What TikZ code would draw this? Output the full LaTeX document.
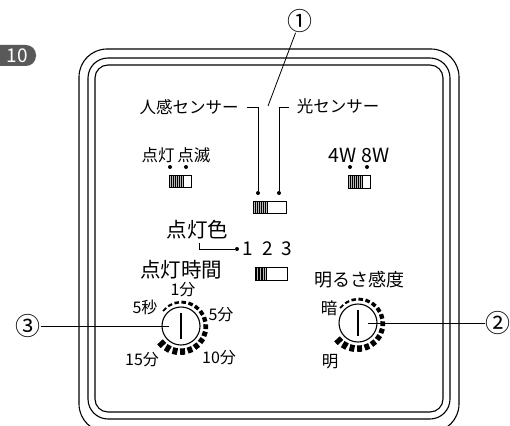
\documentclass[tikz,border=0pt]{standalone}
\usepackage{fontspec}
\setmainfont{Noto Sans CJK JP}
\usetikzlibrary{calc}
\newcommand\fsz[1]{\fontsize{#1}{#1}\selectfont}
\newcommand\swbox[5]{% x1 y1 x2 y2 xh
  \fill[gray!55] (#1,#2) rectangle (#5,#4);
  \foreach \sx in {1,...,6}{\draw[line width=0.9pt] ({#1+(#5-#1)*\sx/7},#2) -- ({#1+(#5-#1)*\sx/7},#4);}
  \draw[line width=0.9pt] (#1,#2) rectangle (#3,#4);
  \draw[line width=0.9pt] (#5,#2) -- (#5,#4);}
\newcommand\dialring[1]{%
  \foreach \i in {0,...,16}{%
    \pgfmathsetmacro\segA{140-\i*17}%
    \pgfmathsetmacro\segW{1.8+\i*0.36}%
    \pgfmathsetmacro\segR{22.5+\segW/2}%
    \draw[line width=\segW pt] ($(#1)+(\segA:\segR pt)$) arc[start angle=\segA, end angle=\segA-11, radius=\segR pt];
  }}
\begin{document}
\begin{tikzpicture}[x=1pt,y=1pt,
  frameline/.style={line width=1.1pt},
  txt/.style={inner sep=0pt, font=\fsz{16.5}},
  bigtxt/.style={inner sep=0pt, font=\fsz{20.5}},
  dialtxt/.style={inner sep=0pt, font=\fsz{16}},
  numtxt/.style={inner sep=0pt, font=\fsz{19}},
  circnum/.style={inner sep=0pt, font=\fsz{25}},
  sdot/.style={circle, fill, inner sep=0pt, minimum size=4pt},
  lead/.style={line width=0.8pt},
  knob/.style={circle, draw, line width=1.1pt, minimum size=38pt, inner sep=0pt}]
\useasboundingbox (0,0) rectangle (510,-425);
\clip (0,0) rectangle (510,-425);
% badge
\fill[gray!70!black, rounded corners=10pt] (-20,-45) rectangle (36,-66);
\node[inner sep=0pt, text=white, font=\fsz{19}] (badge) at (17,-55.5) {10};
% frame
\draw[frameline, rounded corners=28pt] (79,-49) rectangle (459,-432);
\draw[frameline, rounded corners=20pt] (88,-58) rectangle (450,-419);
\draw[frameline, rounded corners=13pt] (95,-65) rectangle (443,-412);
% sensor selection
\node[circnum] (c1) at (300,-21) {①};
\coordinate (gap) at (268,-106);
\draw[lead] (c1) -- (gap);
\node[txt] (hum) at (189,-107) {人感センサー};
\node[txt] (light) at (338,-106) {光センサー};
\node[sdot] (d1) at (258,-193) {};
\node[sdot] (d2) at (279,-193) {};
\coordinate (b1) at (247,-107);
\coordinate (b2) at (289,-107);
\draw[lead] (b1) -| (d1);
\draw[lead] (b2) -| (d2);
\swbox{253}{-201}{286}{-213}{267}
% mode switch
\node[txt] (mode) at (176,-155) {点灯\hspace{3pt}点滅};
\node[sdot] (d3) at (170,-167) {};
\node[sdot] (d4) at (186,-167) {};
\swbox{169}{-175}{191}{-187}{183}
% wattage switch
\node[inner sep=0pt, font=\fsz{19.5}] (watt) at (359,-155) {4W 8W};
\node[sdot] (d5) at (350,-167) {};
\node[sdot] (d6) at (367,-167) {};
\swbox{348}{-175}{370}{-188}{362}
% colour
\node[bigtxt] (col) at (197.5,-230) {点灯色};
\node[sdot] (d7) at (237,-249) {};
\coordinate (cb) at (199,-243);
\draw[lead] (cb) |- (d7);
\node[numtxt] (n1) at (248,-249) {1};
\node[numtxt] (n2) at (268,-249) {2};
\node[numtxt] (n3) at (287,-249) {3};
\swbox{255}{-267}{287}{-280}{266}
% time dial
\node[bigtxt] (time) at (181,-270) {点灯時間};
\node[knob] (dl) at (181,-326) {};
\draw[line width=2pt] ($(dl.center)+(0,13)$) -- ($(dl.center)+(0,-13)$);
\dialring{dl.center}
\node[dialtxt] (t1) at (183,-290) {1分};
\node[dialtxt] (t2) at (145,-307) {5秒};
\node[dialtxt] (t3) at (221,-315) {5分};
\node[dialtxt] (t4) at (142,-360) {15分};
\node[dialtxt] (t5) at (219,-358) {10分};
\node[circnum] (c3) at (28,-326) {③};
\coordinate (le) at (169,-326);
\draw[lead] (c3) -- (le);
% brightness dial
\node[inner sep=0pt, font=\fsz{18}] (bri) at (359.5,-280) {明るさ感度};
\node[knob] (dr) at (358,-323) {};
\draw[line width=2pt] ($(dr.center)+(0,13)$) -- ($(dr.center)+(0,-13)$);
\dialring{dr.center}
\node[inner sep=0pt, font=\fsz{16.5}] (dark) at (329,-308) {暗};
\node[inner sep=0pt, font=\fsz{16.5}] (bright) at (330,-362) {明};
\node[circnum] (c2) at (498,-323) {②};
\coordinate (re) at (368,-323);
\draw[lead] (c2) -- (re);
\end{tikzpicture}
\end{document}
